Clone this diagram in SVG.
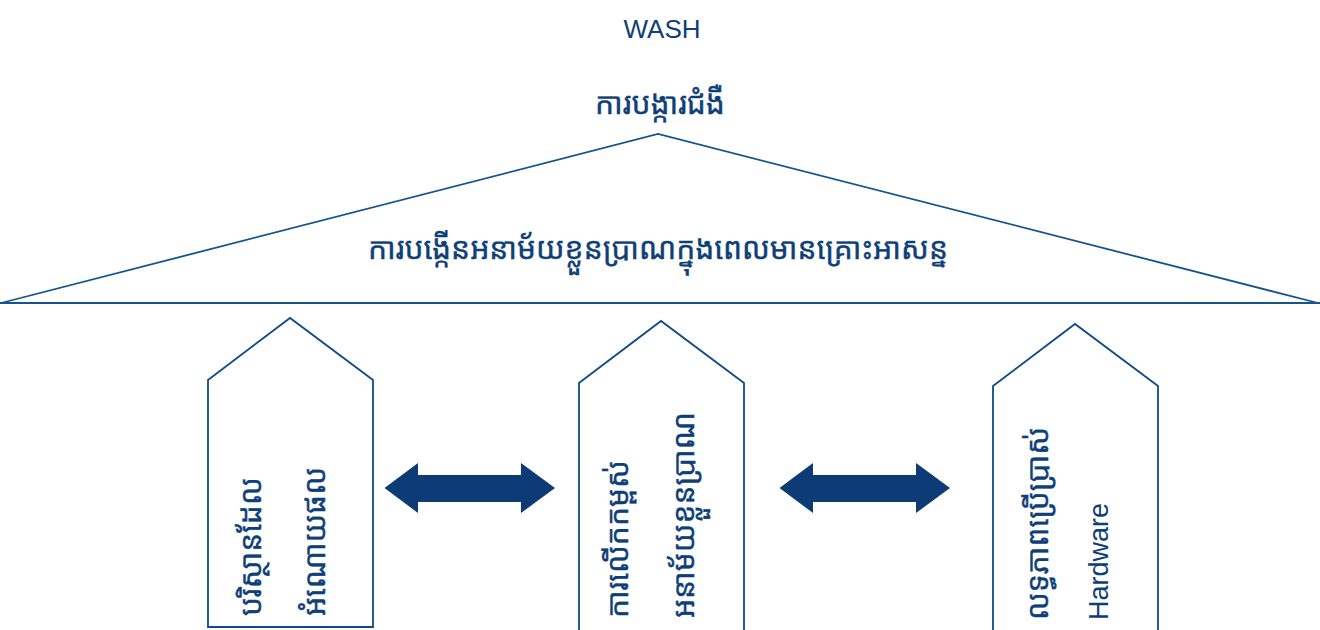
<svg xmlns="http://www.w3.org/2000/svg" width="1320" height="630" viewBox="0 0 1320 630">
<style>
.t{fill:#0e3f78;stroke:#0e3f78;stroke-width:0.4;font-family:"Noto Sans Khmer","Khmer OS","Noto Serif Khmer","Noto Sans","Liberation Sans",sans-serif;}
.l{fill:#0e3f78;font-family:"Liberation Sans",Arial,sans-serif;}
.ln{fill:none;stroke:#15548f;stroke-width:1.8;}
.pl{fill:#ffffff;stroke:#0f4b88;stroke-width:1.8;}
.ar{fill:#0d3b75;}
</style>
<rect width="1320" height="630" fill="#ffffff"/>
<g id="title">
<text class="l" x="662" y="38" font-size="26" text-anchor="middle">WASH</text>
<text class="t" x="660" y="114" font-size="30" text-anchor="middle">ការបង្ការជំងឺ</text>
</g>
<g id="roof">
<polygon class="ln" points="1,303 658,134 1318,303"/>
<line class="ln" x1="0" y1="303" x2="1320" y2="303"/>
<text class="t" x="658" y="259" font-size="30" text-anchor="middle">ការបង្កើនអនាម័យខ្លួនប្រាណក្នុងពេលមានគ្រោះអាសន្ន</text>
</g>
<g id="pillar-left">
<polygon class="pl" points="208,627 208,380 290,318 373,380 373,627"/>
<text class="t" font-size="30" transform="translate(261,616) rotate(-90)">បរិស្ថានដែល</text>
<text class="t" font-size="30" transform="translate(325,616) rotate(-90)">អំណោយផល</text>
</g>
<g id="pillar-middle">
<polygon class="pl" points="579,632 579,383 661,321 744,383 744,632"/>
<text class="t" font-size="30" transform="translate(628,618) rotate(-90)">ការលើកកម្ពស់</text>
<text class="t" font-size="30" transform="translate(694,618) rotate(-90)">អនាម័យខ្លួនប្រាណ</text>
</g>
<g id="pillar-right">
<polygon class="pl" points="993,632 993,386 1075,324 1158,386 1158,632"/>
<text class="t" font-size="30" transform="translate(1048,620) rotate(-90)">លទ្ធភាពប្រើប្រាស់</text>
<text class="l" font-size="27" transform="translate(1108,620) rotate(-90)">Hardware</text>
</g>
<g id="connectors">
<polygon class="ar" points="384.5,488 418,463 418,475 521,475 521,463 555,488 521,513 521,502 418,502 418,513"/>
<polygon class="ar" points="779.5,488 813,463 813,475 916,475 916,463 950,488 916,513 916,502 813,502 813,513"/>
</g>
</svg>
